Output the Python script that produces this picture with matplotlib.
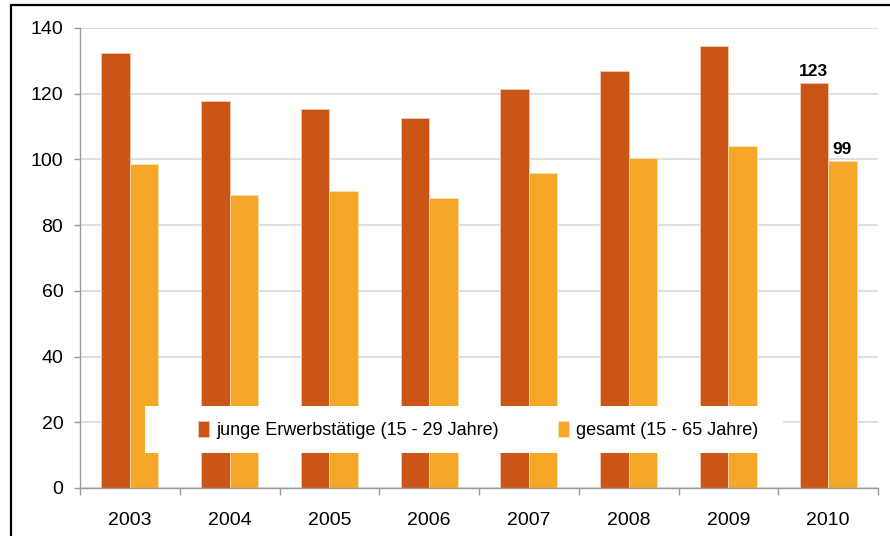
import matplotlib
matplotlib.use("Agg")
import matplotlib.pyplot as plt
import numpy as np
from matplotlib.patches import Rectangle

# Daten
jahre = ["2003", "2004", "2005", "2006", "2007", "2008", "2009", "2010"]
junge = [132.3, 117.9, 115.3, 112.6, 121.4, 126.9, 134.6, 123.3]
gesamt = [98.6, 89.2, 90.4, 88.3, 95.9, 100.5, 104.1, 99.4]
label_junge = "junge Erwerbstätige (15 - 29 Jahre)"
label_gesamt = "gesamt (15 - 65 Jahre)"
yticks = [0, 20, 40, 60, 80, 100, 120, 140]

c_junge = "#CB5516"
c_gesamt = "#F5A828"

plt.rcParams["font.family"] = ["Liberation Sans", "DejaVu Sans"]

fig = plt.figure(figsize=(8.9, 5.36), dpi=100)
ax = fig.add_axes([80/890, 48/536, 798/890, 460/536])

x = np.arange(len(jahre))
w = 0.286
ax.bar(x - w/2, junge, w, color=c_junge, edgecolor="#f3c9b0", linewidth=0.6, zorder=2, label=label_junge)
ax.bar(x + w/2, gesamt, w, color=c_gesamt, edgecolor="#fbe0b0", linewidth=0.6, zorder=2, label=label_gesamt)

# Werte für 2010
ax.annotate(f"{junge[-1]:.0f}", (x[-1] - w/2, junge[-1]), xytext=(0, 3), textcoords="offset points",
            ha="center", va="bottom", fontsize=12.5, fontweight="bold")
ax.annotate(f"{gesamt[-1]:.0f}", (x[-1] + w/2, gesamt[-1]), xytext=(0, 3), textcoords="offset points",
            ha="center", va="bottom", fontsize=12.5, fontweight="bold")

ax.set_xlim(-0.5, len(jahre) - 0.5)
ax.set_ylim(0, 140)
ax.set_yticks(yticks)
ax.set_xticks(x)
ax.set_xticklabels(jahre)
ax.set_xticks(np.arange(-0.5, len(jahre)), minor=True)
ax.tick_params(axis="x", which="major", length=0, pad=17, labelsize=14)
ax.tick_params(axis="x", which="minor", length=5, color="#999999", width=1)
ax.tick_params(axis="y", length=4, color="#999999", width=1, pad=8, labelsize=14)

ax.grid(axis="y", color="#d9d9d9", linewidth=1.2, zorder=0)
ax.set_axisbelow(True)
for s in ["top", "right"]:
    ax.spines[s].set_visible(False)
for s in ["left", "bottom"]:
    ax.spines[s].set_color("#999999")
    ax.spines[s].set_linewidth(1)

# Legende mit weißem Kasten
ax.add_patch(Rectangle((0.0815, 0.076), 0.80, 0.102, transform=ax.transAxes,
                       facecolor="white", edgecolor="none", zorder=3))
leg = ax.legend(loc="center", bbox_to_anchor=(0.499, 0.126), ncol=2, frameon=False,
                fontsize=13, handlelength=0.6, handleheight=0.95, handletextpad=0.4,
                columnspacing=3.3)
leg.set_zorder(4)

# Rahmen
fig.patches.append(Rectangle((11/890, -0.05), 1.0, 1.05 - 5/536, transform=fig.transFigure,
                             fill=False, edgecolor="black", linewidth=1.6))

fig.savefig("out.png", dpi=100)
